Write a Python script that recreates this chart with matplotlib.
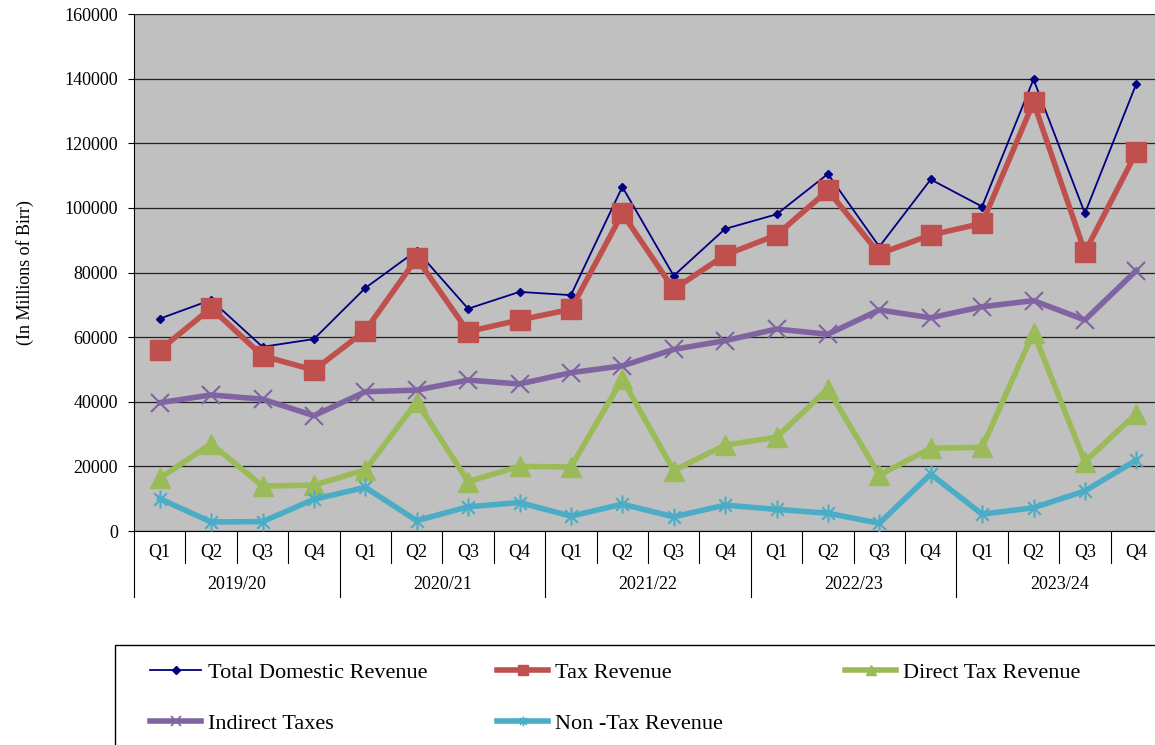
import matplotlib
matplotlib.use("Agg")
import matplotlib.pyplot as plt
import matplotlib.transforms as mtransforms
from matplotlib.lines import Line2D
from matplotlib.patches import Rectangle
from matplotlib.path import Path

plt.rcParams["font.family"] = ["Liberation Serif", "DejaVu Serif"]

quarters = ["Q1", "Q2", "Q3", "Q4"] * 5
years = ["2019/20", "2020/21", "2021/22", "2022/23", "2023/24"]

total_domestic = [65700, 71500, 57000, 59400, 75200, 86800, 68800, 74000, 73000, 106500,
                  79000, 93500, 98000, 110500, 88000, 108800, 100400, 139800, 98300, 138400]
tax_revenue = [56000, 69000, 54200, 49800, 62000, 84400, 61700, 65300, 68600, 98300,
               74800, 85400, 91600, 105400, 85800, 91600, 95200, 132700, 86300, 117200]
direct_tax = [16300, 27000, 13900, 14200, 18900, 40000, 15300, 20000, 19800, 47000,
              18700, 26600, 29000, 44000, 17300, 25600, 25900, 61400, 21500, 36300]
indirect_tax = [39700, 42100, 40800, 35700, 43100, 43600, 46700, 45500, 49000, 51100,
                56200, 58900, 62500, 60900, 68400, 66000, 69400, 71300, 65300, 80600]
non_tax = [10000, 2800, 2900, 9800, 13500, 3200, 7500, 8800, 4600, 8300,
           4400, 8000, 6700, 5500, 2400, 17600, 5200, 7200, 12400, 21900]

NAVY = "#000080"
RED = "#C0504D"
GREEN = "#9BBB59"
PURPLE = "#8064A2"
CYAN = "#4BACC6"

# Excel-style asterisk: x plus vertical bar
ASTER = Path([(0, -1), (0, 1), (-0.7, -0.7), (0.7, 0.7), (-0.7, 0.7), (0.7, -0.7)],
             [Path.MOVETO, Path.LINETO, Path.MOVETO, Path.LINETO, Path.MOVETO, Path.LINETO])

W, H = 1155, 745
fig = plt.figure(figsize=(W / 100, H / 100), dpi=100, facecolor="white")
ax = fig.add_axes([134 / W, 214 / H, 1028 / W, 517 / H])
ax.set_facecolor("#C0C0C0")

x = list(range(len(quarters)))
ax.plot(x, total_domestic, color=NAVY, lw=1.3, marker="D", ms=4.5, zorder=3)
ax.plot(x, tax_revenue, color=RED, lw=4, marker="s", ms=14, zorder=4)
ax.plot(x, direct_tax, color=GREEN, lw=4, marker="^", ms=14, zorder=5)
ax.plot(x, indirect_tax, color=PURPLE, lw=4, marker="x", ms=13, mew=1.5, zorder=6)
ax.plot(x, non_tax, color=CYAN, lw=4, marker=ASTER, ms=13, mew=1.5, zorder=7)

ax.set_xlim(-0.5, len(quarters) - 0.5)
ax.set_ylim(0, 160000)
ax.set_yticks(range(0, 160001, 20000))
ax.grid(axis="y", color="#202020", lw=0.9)
ax.set_axisbelow(True)
for s in ["top", "right"]:
    ax.spines[s].set_visible(False)
ax.spines["left"].set_color("black")
ax.spines["bottom"].set_color("black")
ax.tick_params(axis="y", labelsize=13, length=4.5, width=0.8, pad=7)
ax.set_xticks(x)
ax.set_xticklabels(quarters, fontsize=13)
ax.tick_params(axis="x", length=0, pad=9)
ax.set_ylabel("(In Millions of Birr)", fontsize=13, labelpad=22)

# two-level category axis: separators and year labels
trans = mtransforms.blended_transform_factory(ax.transData, ax.transAxes)
for k in range(len(quarters) + 1):
    bottom = -0.1277 if k % 4 == 0 else -0.0619
    ax.add_line(Line2D([k - 0.5, k - 0.5], [0, bottom], transform=trans,
                       color="black", lw=0.8, clip_on=False))
for i, yr in enumerate(years):
    ax.text(4 * i + 1.5, -0.1044, yr, transform=trans, ha="center", va="center", fontsize=13)

# legend box (extends past the image edge like the reference)
fig.add_artist(Rectangle((115 / W, -0.1), 1.0, (745 - 645) / H + 0.1, transform=fig.transFigure,
                         fill=False, edgecolor="black", lw=1.0, clip_on=False))

def handle(color, lw, marker, ms, mew=1.0):
    return Line2D([0], [0], color=color, lw=lw, marker=marker, ms=ms, mew=mew)

h_total = handle(NAVY, 1.3, "D", 4)
h_tax = handle(RED, 4, "s", 7)
h_direct = handle(GREEN, 4, "^", 7)
h_indirect = handle(PURPLE, 4, "x", 7, 1.2)
h_non = handle(CYAN, 4, ASTER, 7, 1.2)

cols = [
    (150, [h_total, h_indirect], ["Total Domestic Revenue", "Indirect Taxes"]),
    (497, [h_tax, h_non], ["Tax Revenue", "Non -Tax Revenue"]),
    (845, [h_direct], ["Direct Tax Revenue"]),
]
for xpos, hs, labs in cols:
    fig.legend(hs, labs, loc="upper left", bbox_to_anchor=(xpos / W, 1 - 662 / H),
               frameon=False, fontsize=16, borderpad=0, borderaxespad=0,
               handlelength=2.3, handletextpad=0.3, labelspacing=1.4)

fig.savefig("out.png", dpi=100, facecolor="white")
